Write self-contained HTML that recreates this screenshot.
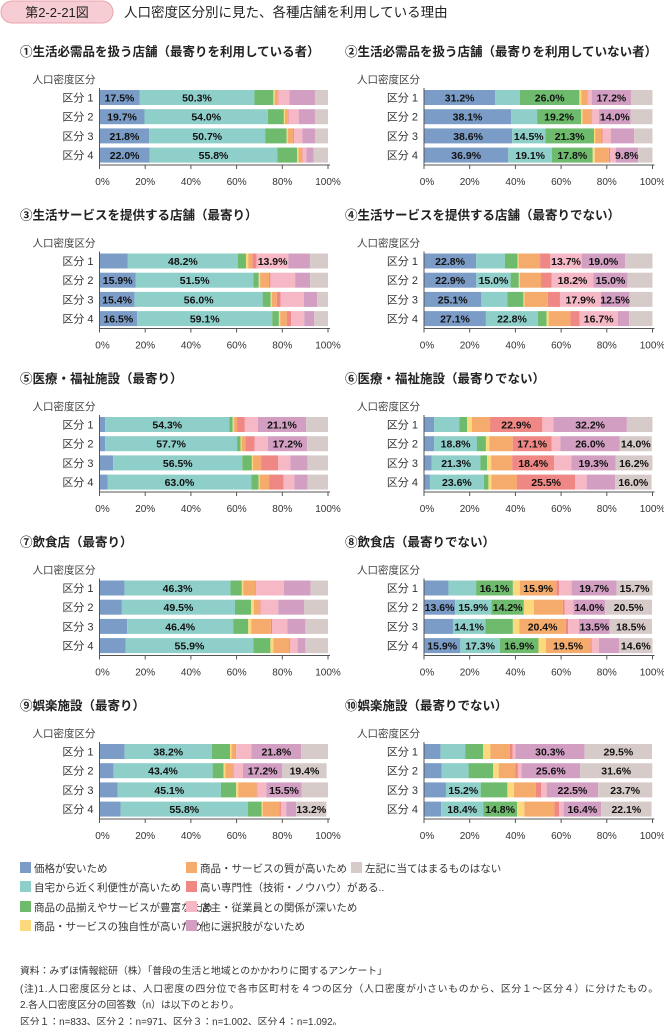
<!DOCTYPE html>
<html><head><meta charset="utf-8"><style>
body{margin:0;background:#fff;}
svg{display:block;font-family:"Liberation Sans","Noto Sans CJK JP",sans-serif;}
</style></head><body>
<svg id="c" width="664" height="1025" viewBox="0 0 664 1025">
<rect x="1" y="1" width="112" height="22" rx="11" fill="#f6cdd2" stroke="#eaa3ac"/>
<text x="57" y="17" text-anchor="middle" font-size="13" fill="#222">第2-2-21図</text>
<text x="124" y="17" font-size="13.5" fill="#222">人口密度区分別に見た、各種店舗を利用している理由</text>
</svg>
<script>
const categories=["区分 1","区分 2","区分 3","区分 4"];
const seriesNames=["価格が安いため","自宅から近く利便性が高いため","商品の品揃えやサービスが豊富なため","商品・サービスの独自性が高いため","商品・サービスの質が高いため","高い専門性（技術・ノウハウ）がある..","店主・従業員との関係が深いため","他に選択肢がないため","左記に当てはまるものはない"];
const colors=["#7a9cc6","#8fcfca","#6fbb6d","#fbd97c","#f5ab6c","#ef8784","#f6b8c4","#d29fc3","#d7cbc9"];
const ticks=["0%","20%","40%","60%","80%","100%"];
const titles=["①生活必需品を扱う店舗（最寄りを利用している者）","②生活必需品を扱う店舗（最寄りを利用していない者）","③生活サービスを提供する店舗（最寄り）","④生活サービスを提供する店舗（最寄りでない）","⑤医療・福祉施設（最寄り）","⑥医療・福祉施設（最寄りでない）","⑦飲食店（最寄り）","⑧飲食店（最寄りでない）","⑨娯楽施設（最寄り）","⑩娯楽施設（最寄りでない）"];
const p1=[[17.5,50.3,8.3,0.6,1.3,0.3,4.8,11.2,5.7],[19.7,54.0,7.0,0.5,1.2,0.3,4.5,7.1,5.7],[21.8,50.7,9.4,0.5,2.5,0.3,3.6,5.5,5.7],[22.0,55.8,8.7,0.6,1.6,0.3,1.5,3.2,6.3]];
const p2=[[31.2,10.8,26.0,0.9,2.5,0.3,1.7,17.2,9.4],[38.1,11.4,19.2,0.7,3.6,0.3,3.2,14.0,9.5],[38.6,14.5,21.3,0.5,2.8,0.5,3.5,10.3,8.0],[36.9,19.1,17.8,1.0,6.1,0.5,2.5,9.8,6.3]];
const p3=[[12.4,48.2,3.5,1.0,1.8,1.9,13.9,9.4,7.9],[15.9,51.5,2.3,0.6,3.9,0.6,10.8,6.6,7.8],[15.4,56.0,3.5,0.5,2.2,1.6,10.2,5.8,4.8],[16.5,59.1,2.9,0.6,2.9,1.9,5.7,4.4,6.0]];
const p4=[[22.8,12.6,5.5,0.5,9.4,4.5,13.7,19.0,12.0],[22.9,15.0,3.6,0.5,9.2,4.7,18.2,15.0,10.9],[25.1,11.4,7.0,0.5,10.2,5.3,17.9,12.5,10.1],[27.1,22.8,3.7,1.0,9.4,4.1,16.7,5.0,10.2]];
const p5=[[2.5,54.3,1.5,0.6,1.3,3.4,5.7,21.1,9.6],[2.5,57.7,1.5,0.5,1.6,4.1,5.8,17.2,9.1],[6.0,56.5,4.2,0.5,3.7,7.3,5.3,7.5,9.0],[3.5,63.0,3.1,0.5,4.1,6.4,4.7,5.8,8.9]];
const p6=[[4.4,11.0,3.5,2.0,8.0,22.9,4.8,32.2,11.2],[4.4,18.8,3.9,1.5,10.2,17.1,3.8,26.0,14.0],[3.4,21.3,2.9,1.8,9.2,18.4,7.5,19.3,16.2],[2.6,23.6,2.0,1.3,11.2,25.5,5.0,12.4,16.0]];
const p7=[[11.0,46.3,5.0,0.6,5.4,0.3,12.1,11.7,7.6],[9.8,49.5,7.0,1.3,2.6,0.3,7.7,11.3,10.5],[12.1,46.4,6.6,1.3,8.6,0.5,6.7,7.9,9.9],[11.4,55.9,7.5,1.3,6.9,0.5,3.2,3.4,9.9]];
const p8=[[10.7,12.1,16.1,3.1,15.9,1.3,5.4,19.7,15.7],[13.6,15.9,14.2,4.4,12.7,0.7,3.8,14.0,20.5],[12.7,14.1,12.1,2.8,20.4,1.0,4.7,13.5,18.5],[15.9,17.3,16.9,3.2,19.5,0.5,3.2,8.9,14.6]];
const p9=[[11.0,38.2,7.9,0.7,1.7,0.3,6.7,21.8,11.7],[6.1,43.4,4.8,0.8,3.2,0.4,4.1,17.2,19.4],[8.0,45.1,6.7,1.0,8.0,0.3,3.9,15.5,11.5],[9.2,55.8,6.0,0.5,7.3,0.6,2.3,4.4,13.2]];
const p10=[[7.2,10.8,7.9,3.1,8.5,1.3,1.2,30.3,29.5],[7.7,11.8,10.7,2.5,7.2,1.2,1.6,25.6,31.6],[9.6,15.2,11.7,2.9,9.5,2.3,2.5,22.5,23.7],[7.5,18.4,14.8,3.2,13.2,2.0,2.0,16.4,22.1]];
// indices of printed labels per panel/row
const lab1=[[0,1],[0,1],[0,1],[0,1]];
const lab2=[[0,2,7],[0,2,7],[0,1,2],[0,1,2,7]];
const lab3=[[1,6],[0,1],[0,1],[0,1]];
const lab4=[[0,6,7],[0,1,6,7],[0,6,7],[0,1,6]];
const lab5=[[1,7],[1,7],[1],[1]];
const lab6=[[5,7],[1,5,7,8],[1,5,7,8],[1,5,8]];
const lab7=[[1],[1],[1],[1]];
const lab8=[[2,4,7,8],[0,1,2,7,8],[1,4,7,8],[0,1,2,4,8]];
const lab9=[[1,7],[1,7,8],[1,7],[1,8]];
const lab10=[[7,8],[7,8],[1,7,8],[1,2,7,8]];
const panels=[p1,p2,p3,p4,p5,p6,p7,p8,p9,p10];
const labs=[lab1,lab2,lab3,lab4,lab5,lab6,lab7,lab8,lab9,lab10];

const svg=document.getElementById('c');
const NS='http://www.w3.org/2000/svg';
function mk(tag,attrs,txt){const e=document.createElementNS(NS,tag);for(const k in attrs)e.setAttribute(k,attrs[k]);if(txt!==undefined)e.textContent=txt;svg.appendChild(e);return e;}
const PW=228.5, PITCH=163.5, ROW=19.2, BH=15;
panels.forEach((data,pi)=>{
  const col=pi%2, prow=Math.floor(pi/2);
  const x0=col?424:99.5, oy=prow*PITCH;
  const xs=v=>x0+v/100*PW;
  let t=mk('text',{x:col?345:20,y:56+oy,'font-size':12.5,'font-weight':'bold',fill:'#222'},titles[pi]);
  
  
  t=mk('text',{x:x0-4,y:83+oy,'font-size':10.5,fill:'#444','text-anchor':'end'},'人口密度区分');
  
  
  data.forEach((row,ri)=>{
    const y=90+oy+ri*ROW;
    t=mk('text',{x:x0-6,y:y+11.5,'font-size':11,fill:'#333','text-anchor':'end'},categories[ri]);
    
    
    let acc=0;
    row.forEach((v,si)=>{
      const r=mk('rect',{x:xs(acc),y:y,width:Math.max(0,xs(acc+v)-xs(acc)),height:BH,fill:colors[si]});
      
      
      if(labs[pi][ri].indexOf(si)>=0){
        const tx=mk('text',{x:(xs(acc)+xs(acc+v))/2,y:y+11.5,'font-size':10.5,'font-weight':'bold',fill:'#111','text-anchor':'middle'},v.toFixed(1)+'%');
        
        
      }
      acc+=v;
    });
  });
  const ay=165+oy;
  let l=mk('line',{x1:x0,x2:x0+PW+2,y1:ay,y2:ay,stroke:'#555','stroke-width':1});
  
  
  l=mk('line',{x1:x0,x2:x0,y1:88+oy,y2:ay+3,stroke:'#555','stroke-width':1});
  
  
  ticks.forEach((tk,ti)=>{
    const tx=xs(ti*20);
    const m=mk('line',{x1:tx,x2:tx,y1:ay,y2:ay+4,stroke:'#555'});
    
    
    const tl=mk('text',{x:tx+(ti==0?3:0),y:ay+20,'font-size':10,fill:'#333','text-anchor':'middle'},tk);
    
    
  });
});
const legPos=[[20,862],[20,881],[20,901],[20,920],[186,862],[186,881],[186,901],[186,920],[351,862]];
seriesNames.forEach((n,i)=>{
  const [lx,ly]=legPos[i];
  const r=mk('rect',{x:lx,y:ly,width:11,height:11,fill:colors[i]});
  
  
  const t=mk('text',{x:lx+14,y:ly+10,'font-size':10.5,fill:'#333'},n);
  
  
});
const notes=["資料：みずほ情報総研（株）「普段の生活と地域とのかかわりに関するアンケート」","(注)1.人口密度区分とは、人口密度の四分位で各市区町村を４つの区分（人口密度が小さいものから、区分１～区分４）に分けたもの。","2.各人口密度区分の回答数（n）は以下のとおり。","区分１：n=833、区分２：n=971、区分３：n=1,002、区分４：n=1,092。"];
const noteY=[975,993,1009,1026];
notes.forEach((n,i)=>{
  const t=mk('text',{x:20,y:noteY[i]-1,'font-size':9.8,fill:'#333',textLength:(i==1?638:null)},n);
  if(i!=1)t.removeAttribute('textLength');
  
  
});
</script>
</body></html>
